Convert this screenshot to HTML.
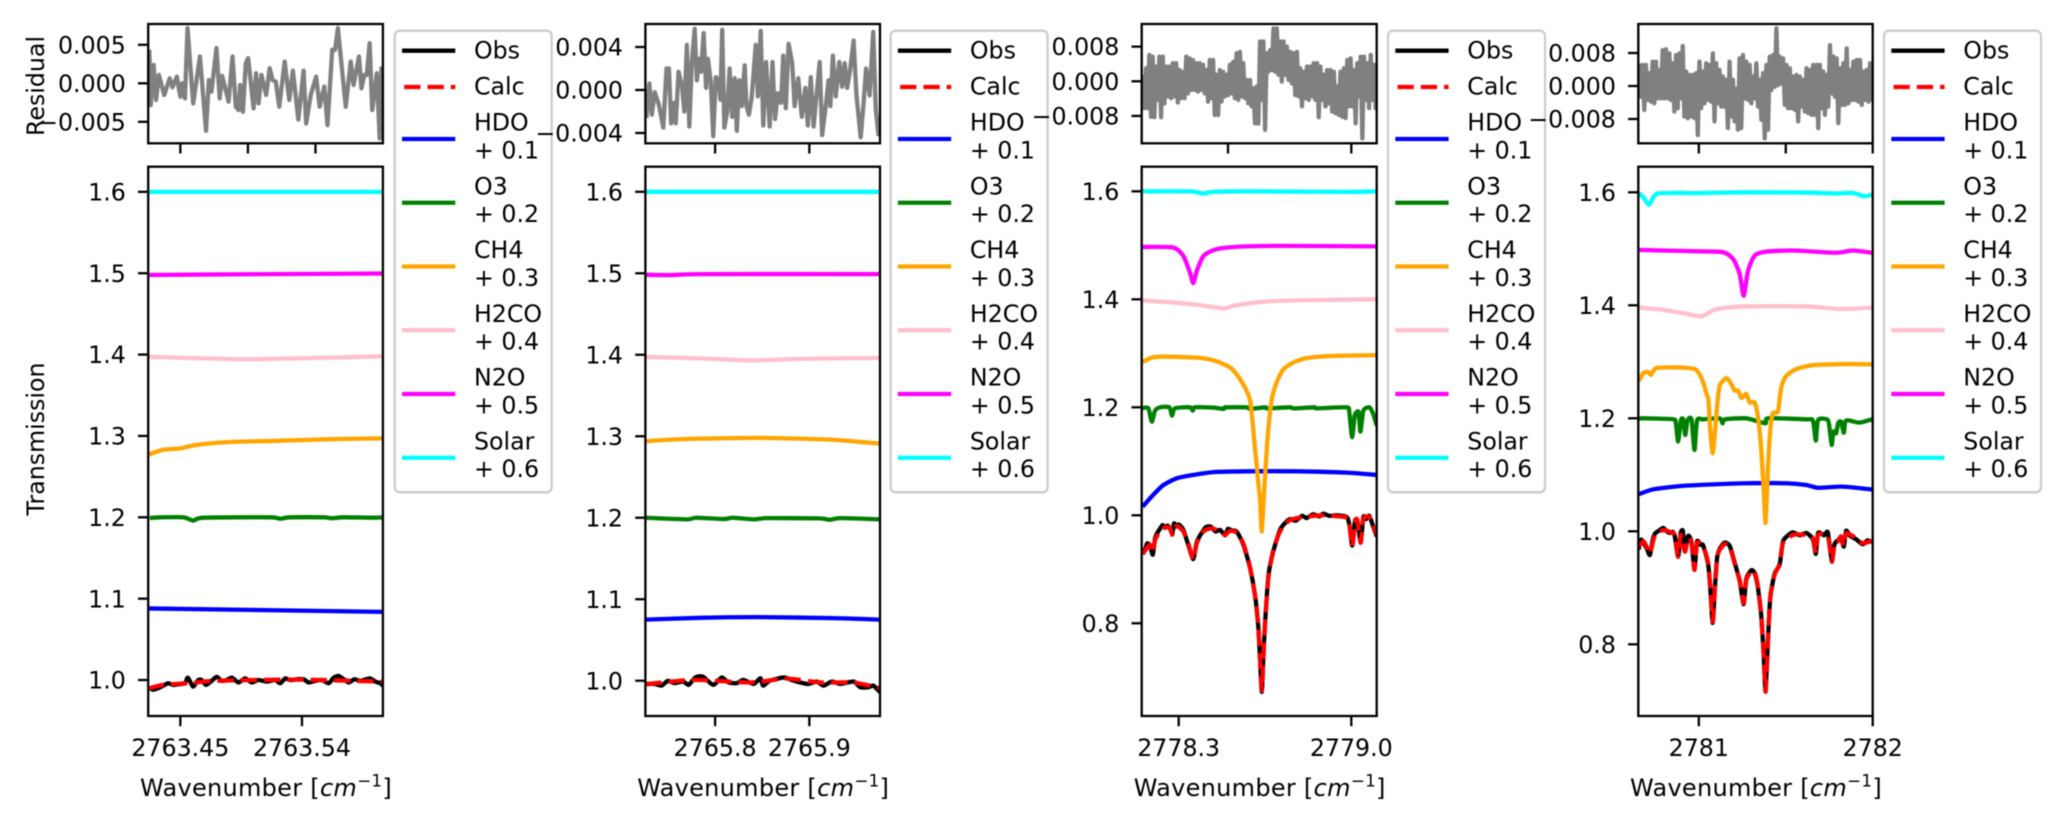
<!DOCTYPE html>
<html lang="en">
<head>
<meta charset="utf-8">
<title>Transmission spectra with residuals</title>
<style>
html,body{margin:0;padding:0;background:#fff;width:2067px;height:823px;overflow:hidden}
#chart{display:block;filter:blur(0.55px)}
text{font-family:"DejaVu Sans","Liberation Sans",sans-serif;font-size:23.7px;fill:#000}
</style>
</head>
<body>
<svg id="chart" xmlns="http://www.w3.org/2000/svg" width="2067" height="823" viewBox="0 0 2067 823"></svg>
<script>
// ---------- legend ----------
const seriesNames = ['Obs','Calc','HDO','O3','CH4','H2CO','N2O','Solar'];
const seriesOffsets = ['','','+ 0.1','+ 0.2','+ 0.3','+ 0.4','+ 0.5','+ 0.6'];
const seriesColors = ['#000000','#ff0000','#0000ff','#008000','#ffa500','#ffc0cb','#ff00ff','#00ffff'];

// ---------- panel 1 ----------
const p1XDomain = [2763.4262, 2763.5999];
const p1YDomain = [0.9558, 1.6309];
const p1ResDomain = [-0.00779, 0.0077];
const p1XTicks = [2763.45, 2763.54];
const p1XTickLabels = ['2763.45','2763.54'];
const p1ResXTicks = [2763.45, 2763.50, 2763.55];
const p1YTicks = [1.0,1.1,1.2,1.3,1.4,1.5,1.6];
const p1YTickLabels = ['1.0','1.1','1.2','1.3','1.4','1.5','1.6'];
const p1ResTicks = [0.005,0,-0.005];
const p1ResTickLabels = ['0.005','0.000','\u22120.005'];
const p1ObsWn = [2763.4262,.4274,.4299,.4336,.4373,.4410,.4448,.4497,.4534,.4554,.4576,.4596,.4633,.4658,.4690,.4732,.4769,.4806,.4843,.4881,.4930,.4979,.5029,.5078,.5140,.5202,.5239,.5276,.5313,.5363,.5412,.5450,.5499,.5549,.5598,.5635,.5672,.5709,.5746,.5788,.5833,.5902,.5944,.5981,.5999].map(function(v,i){return i===0?v:2763+v;});
const p1ObsValues = [.990,.990,.988,.990,.993,.996,.994,.995,.996,1.003,.997,.992,1.000,1.000,.994,.999,1.004,.999,1.000,1.003,.997,1.002,.997,1.000,.998,1.000,.996,1.002,1.000,1.001,1.001,.997,.999,1.000,.996,1.003,1.005,1.001,.997,1.001,.999,1.002,.998,.996,.993];
const p1CalcWn = [2763.4262,2763.4373,2763.4547,2763.4596,2763.4744,2763.5363,2763.5999];
const p1CalcValues = [.9895,.994,.996,.9965,.999,1.0005,.998];
const p1HdoWn = [2763.4262,2763.5999];
const p1HdoValues = [1.088,1.0838];
const p1O3Wn = [2763.4274,2763.4349,2763.4522,2763.4596,2763.4670,2763.5165,2763.5239,2763.5313,2763.5561,2763.5623,2763.5709,2763.5932,2763.5999];
const p1O3Values = [1.1991,1.2,1.2,1.196,1.1995,1.2,1.1982,1.2,1.2,1.1988,1.2,1.1995,1.2];
const p1Ch4Wn = [2763.4262,2763.4373,2763.4497,2763.4621,2763.4868,2763.5214,2763.5610,2763.5999];
const p1Ch4Values = [1.277,1.283,1.2846,1.289,1.2925,1.294,1.296,1.297];
const p1H2coWn = [2763.4262,2763.4992,2763.5999];
const p1H2coValues = [1.3974,1.3943,1.3978];
const p1N2oWn = [2763.4262,2763.4992,2763.5999];
const p1N2oValues = [1.4978,1.4987,1.4996];
const p1SolarWn = [2763.4262,2763.5999];
const p1SolarValues = [1.6,1.6];
const p1ResWn = [.4270,.4281,.4302,.4320,.4341,.4381,.4421,.4442,.4474,.4500,.4513,.4534,.4553,.4595,.4645,.4690,.4711,.4730,.4767,.4791,.4809,.4857,.4886,.4910,.4931,.4942,.4963,.4984,.5002,.5042,.5060,.5079,.5100,.5135,.5161,.5182,.5206,.5232,.5272,.5306,.5333,.5373,.5412,.5431,.5465,.5505,.5531,.5565,.5589,.5624,.5645,.5666,.5724,.5761,.5782,.5822,.5840,.5862,.5880,.5901,.5920,.5954,.5975,.5989].map(function(v){return 2763+v;});
const p1ResMilli = [4.35,-2.83,2.39,-2.17,1.09,-1.52,.65,-.52,.87,-1.74,0,-1.96,7.17,-2.61,3.48,-6.17,.43,-1.09,4.57,-1.96,.96,-2.39,3.48,-3.04,-3.48,-.22,-3.7,2.61,3.26,-3.26,1.3,-2.61,1.09,-1.52,1.96,.43,.22,-3.04,2.83,-2.17,1.65,-4.7,1.65,-5.22,-1.52,.87,-3.04,-.43,-5.43,4.35,4.35,7.17,-3.04,2.83,-.22,3.48,-.65,1.09,1.09,5.22,-3.48,1.3,-7.17,2.17];

// ---------- panel 2 ----------
const p2XDomain = [2765.726, 2765.975];
const p2YDomain = [0.9567, 1.6308];
const p2ResDomain = [-0.00496, 0.00614];
const p2XTicks = [2765.8, 2765.9];
const p2XTickLabels = ['2765.8','2765.9'];
const p2ResXTicks = [2765.8, 2765.9];
const p2YTicks = [1.0,1.1,1.2,1.3,1.4,1.5,1.6];
const p2YTickLabels = ['1.0','1.1','1.2','1.3','1.4','1.5','1.6'];
const p2ResTicks = [0.004,0,-0.004];
const p2ResTickLabels = ['0.004','0.000','\u22120.004'];
const p2ObsWn = [.726,.736,.743,.750,.757,.766,.772,.779,.787,.798,.807,.814,.823,.830,.841,.848,.851,.858,.873,.881,.890,.899,.908,.915,.924,.933,.947,.954,.963,.968,.975].map(function(v){return 2765+v;});
const p2ObsValues = [.996,.996,.994,1.000,.997,.999,.995,1.004,1.005,.995,1.004,.998,.997,1.001,.996,1.003,.994,1.000,1.004,1.001,.998,.996,.999,.994,.999,.996,.999,.992,.992,.994,.986];
const p2CalcWn = [2765.726,2765.777,2765.837,2765.876,2765.912,2765.947,2765.975];
const p2CalcValues = [.9956,1.001,.9978,1.0026,.9978,.9978,.991];
const p2HdoWn = [2765.726,2765.784,2765.848,2765.926,2765.975];
const p2HdoValues = [1.075,1.0772,1.078,1.0768,1.075];
const p2O3Wn = [2765.726,2765.770,2765.780,2765.809,2765.819,2765.841,2765.855,2765.910,2765.922,2765.933,2765.975];
const p2O3Values = [1.2,1.198,1.2,1.1984,1.2,1.198,1.1995,1.1992,1.1975,1.1995,1.198];
const p2Ch4Wn = [2765.726,2765.766,2765.848,2765.926,2765.975];
const p2Ch4Values = [1.294,1.2965,1.298,1.2956,1.291];
const p2H2coWn = [2765.726,2765.784,2765.839,2765.890,2765.975];
const p2H2coValues = [1.3974,1.3956,1.393,1.395,1.396];
const p2N2oWn = [2765.726,2765.755,2765.784,2765.975];
const p2N2oValues = [1.4982,1.4978,1.499,1.499];
const p2SolarWn = [2765.726,2765.975];
const p2SolarValues = [1.6,1.6];
const p2ResWn = [.7271,.7302,.7328,.7359,.7404,.7450,.7484,.7510,.7533,.7563,.7582,.7612,.7650,.7673,.7700,.7726,.7753,.7783,.7806,.7832,.7851,.7878,.7904,.7923,.7954,.7980,.8007,.8037,.8056,.8075,.8098,.8128,.8154,.8181,.8208,.8230,.8257,.8283,.8314,.8333,.8359,.8389,.8431,.8454,.8484,.8511,.8541,.8579,.8609,.8636,.8666,.8700,.8723,.8750,.8780,.8818,.8844,.8882,.8920,.8958,.8984,.9015,.9045,.9072,.9110,.9136,.9174,.9204,.9223,.9250,.9280,.9318,.9348,.9375,.9401,.9432,.9470,.9500,.9545,.9576,.9602,.9640,.9678,.9705,.9735].map(function(v){return 2765+v;});
const p2ResMilli = [-2.6,.6,-2.3,-.2,-1.4,-3.5,2,2,-3.1,-1.2,-3.1,1.7,.3,-2,4.2,-3.4,2.6,5.7,.9,2.9,1.7,5.3,.2,2.9,.8,-4.3,1.2,.9,-.9,5.6,-3.5,-2,2,-2.5,1.1,-3.8,.9,-1.5,2.3,-1.5,-2.3,-.6,4.2,-.6,5.5,-3.3,2.6,-3.4,2.6,-2.7,-.3,-1.2,3.2,-1.7,4.3,2.5,-1.5,1.1,-2.5,.2,-3.3,1.2,-3.4,-.9,2.6,-4.2,-1.5,.9,-1.5,3.2,-.6,2.6,.3,2.5,.2,1.8,4.6,-.5,-4.4,-1.2,2,-.5,5.4,-1.8,-4.3];

// ---------- panel 3 ----------
const p3XDomain = [2778.15, 2779.103];
const p3YDomain = [0.6283, 1.6456];
const p3ResDomain = [-0.01432, 0.01323];
const p3XTicks = [2778.3, 2779.0];
const p3XTickLabels = ['2778.3','2779.0'];
const p3ResXTicks = [2778.5, 2779.0];
const p3YTicks = [0.8,1.0,1.2,1.4,1.6];
const p3YTickLabels = ['0.8','1.0','1.2','1.4','1.6'];
const p3ResTicks = [0.008,0,-0.008];
const p3ResTickLabels = ['0.008','0.000','\u22120.008'];
const p3CalcWn = [2778.154,2778.170,2778.184,2778.195,2778.204,2778.224,2778.245,2778.265,2778.274,2778.281,2778.295,2778.319,2778.339,2778.359,2778.373,2778.400,2778.434,2778.468,2778.488,2778.508,2778.535,2778.562,2778.589,2778.610,2778.623,2778.630,2778.637,2778.643,2778.650,2778.664,2778.684,2778.711,2778.751,2778.819,2778.887,2778.981,2778.992,2779.004,2779.015,2779.025,2779.038,2779.049,2779.073,2779.089,2779.103];
const p3CalcValues = [.928,.939,.945,.931,.954,.970,.978,.976,.964,.976,.980,.970,.948,.917,.948,.970,.976,.970,.964,.971,.968,.948,.905,.849,.794,.732,.675,.732,.800,.886,.936,.970,.991,.9975,1.000,.996,.985,.942,.988,.991,.949,.994,.997,.982,.964];
const p3ObsWn = [2778.154,2778.165,2778.172,2778.184,2778.195,2778.204,2778.214,2778.224,2778.235,2778.245,2778.255,2778.265,2778.274,2778.281,2778.290,2778.300,2778.319,2778.339,2778.359,2778.373,2778.390,2778.410,2778.430,2778.450,2778.468,2778.488,2778.500,2778.515,2778.535,2778.562,2778.589,2778.610,2778.623,2778.630,2778.637,2778.643,2778.650,2778.664,2778.684,2778.711,2778.730,2778.751,2778.775,2778.800,2778.819,2778.845,2778.870,2778.887,2778.910,2778.940,2778.981,2778.992,2779.004,2779.015,2779.025,2779.038,2779.049,2779.060,2779.073,2779.089,2779.103];
const p3ObsValues = [.932,.938,.948,.944,.927,.957,.968,.975,.982,.977,.981,.975,.966,.985,.979,.983,.973,.945,.919,.950,.965,.978,.979,.970,.973,.963,.975,.972,.970,.946,.903,.851,.792,.733,.673,.735,.798,.889,.934,.973,.985,.993,.990,.999,.995,1.002,.998,1.003,.999,1.000,.997,.983,.944,.990,.988,.951,.997,.993,.999,.979,.961];
const p3HdoWn = [2778.154,2778.197,2778.238,2778.292,2778.359,2778.441,2778.576,2778.779,2778.981,2779.103];
const p3HdoValues = [1.016,1.038,1.056,1.0685,1.0747,1.080,1.0815,1.0815,1.079,1.0747];
const p3O3Wn = [2778.154,2778.177,2778.191,2778.204,2778.224,2778.262,2778.273,2778.285,2778.346,2778.357,2778.366,2778.440,2778.481,2778.490,2778.576,2778.589,2778.650,2778.660,2778.751,2778.765,2778.850,2778.860,2778.981,2778.992,2779.003,2779.014,2779.022,2779.030,2779.037,2779.049,2779.073,2779.089,2779.103];
const p3O3Values = [1.1988,1.1982,1.1735,1.1938,1.2,1.2,1.1846,1.1982,1.2,1.1938,1.2,1.1995,1.197,1.2,1.2,1.197,1.2,1.198,1.2,1.198,1.2,1.198,1.2,1.1908,1.1446,1.1846,1.1908,1.1908,1.1551,1.1938,1.2,1.1877,1.1662];
const p3Ch4Wn = [2778.154,2778.191,2778.238,2778.373,2778.441,2778.508,2778.549,2778.589,2778.610,2778.623,2778.630,2778.637,2778.646,2778.660,2778.677,2778.697,2778.724,2778.765,2778.819,2778.914,2779.103];
const p3Ch4Values = [1.284,1.292,1.294,1.292,1.287,1.274,1.252,1.2136,1.121,1.06,1.028,.970,1.04,1.14,1.2136,1.246,1.27,1.283,1.291,1.295,1.2966];
const p3H2coWn = [2778.154,2778.281,2778.373,2778.481,2778.522,2778.576,2778.657,2778.779,2779.103];
const p3H2coValues = [1.398,1.394,1.39,1.383,1.388,1.392,1.396,1.398,1.4];
const p3N2oWn = [2778.154,2778.278,2778.319,2778.346,2778.359,2778.373,2778.400,2778.441,2778.481,2778.576,2778.711,2779.103];
const p3N2oValues = [1.497,1.496,1.48,1.449,1.43,1.452,1.48,1.491,1.495,1.498,1.499,1.498];
const p3SolarWn = [2778.154,2778.346,2778.400,2778.441,2778.576,2778.981,2779.103];
const p3SolarValues = [1.6,1.6,1.596,1.599,1.6,1.599,1.6];
const p3ResMilli = [1.5,-6.2,3,-6.2,6.1,-8.2,5.7,-8.3,3.4,-4.3,5.7,-8.3,5.7,-5.1,3.4,-3.5,3.4,-3.9,4.2,-3.5,4.2,-4.9,2.6,-3.9,2.2,-3.9,5.7,-2.8,5.3,-2,4.9,-2,4.2,-2.4,4.2,-2,3.8,-2.8,2.6,-4.7,4.9,-3.9,4.9,-7.8,1.5,-7.8,2.6,-4.7,2.2,-3.5,1.5,-3.2,3.8,-2.8,4.5,-3.9,6.5,-4.3,6.8,-3.5,4.2,-3.9,.3,-5.1,.3,-5.8,-1.6,-9.7,-1.2,-9.8,9.2,-4.3,9.2,-11.2,6.5,2.2,7.2,2.6,12.2,2.2,12.2,1.5,9.2,-.1,9.2,1.5,8,.3,6.8,-.5,6.5,-3.2,6.8,-3.5,3,-5.8,2.2,-3.9,3.4,-4.3,3.4,-3.5,4.2,-4.3,4.2,-8.3,3.4,-4.3,1.5,-5.8,2.6,-5.1,2.6,-7,2.2,-7.4,-1.2,-7.8,2.2,-8.2,3,-8.5,4.9,-5.8,5.3,-5.8,2.6,-9.7,4.2,-3.5,5.7,-13.2,5.7,-4.3,4.2,-6.2,6.1,-4.3,3.8,-6.6];

// ---------- panel 4 ----------
const p4XDomain = [2780.652, 2782.0];
const p4YDomain = [0.6731, 1.6453];
const p4ResDomain = [-0.01389, 0.01503];
const p4XTicks = [2781, 2782];
const p4XTickLabels = ['2781','2782'];
const p4ResXTicks = [2781, 2781.5, 2782];
const p4YTicks = [0.8,1.0,1.2,1.4,1.6];
const p4YTickLabels = ['0.8','1.0','1.2','1.4','1.6'];
const p4ResTicks = [0.008,0,-0.008];
const p4ResTickLabels = ['0.008','0.000','\u22120.008'];
const p4CalcWn = [2780.654,2780.681,2780.700,2780.719,2780.748,2780.795,2780.834,2780.862,2780.881,2780.895,2780.920,2780.939,2780.958,2780.975,2780.990,2781.025,2781.054,2781.067,2781.080,2781.092,2781.105,2781.120,2781.149,2781.178,2781.206,2781.235,2781.258,2781.273,2781.302,2781.321,2781.340,2781.359,2781.373,2781.384,2781.398,2781.411,2781.436,2781.465,2781.484,2781.541,2781.618,2781.656,2781.673,2781.686,2781.742,2781.765,2781.780,2781.799,2781.818,2781.834,2781.847,2781.904,2781.943,2781.996];
const p4CalcValues = [.973,.982,.973,.961,.9935,1.002,.999,.9935,.955,.9935,.964,.988,.979,.9316,.979,.973,.943,.896,.84,.896,.9525,.967,.9776,.973,.943,.914,.8726,.914,.9286,.9286,.902,.849,.784,.716,.8077,.884,.923,.943,.979,.9935,.9935,.988,.962,.9935,.991,.946,.979,.982,.991,.974,.9965,.988,.979,.983];
const p4ObsWn = [2780.654,2780.668,2780.681,2780.700,2780.719,2780.735,2780.748,2780.770,2780.795,2780.815,2780.834,2780.850,2780.862,2780.881,2780.895,2780.908,2780.920,2780.939,2780.958,2780.975,2780.990,2781.010,2781.025,2781.054,2781.067,2781.080,2781.092,2781.105,2781.120,2781.149,2781.178,2781.206,2781.235,2781.258,2781.273,2781.302,2781.321,2781.340,2781.359,2781.373,2781.384,2781.398,2781.411,2781.436,2781.465,2781.484,2781.510,2781.541,2781.580,2781.618,2781.656,2781.673,2781.686,2781.720,2781.742,2781.765,2781.780,2781.799,2781.818,2781.834,2781.847,2781.870,2781.904,2781.943,2781.970,2781.996];
const p4ObsValues = [.968,.985,.980,.970,.958,.985,.996,1.001,1.006,1.000,.997,.999,.991,.955,.996,1.001,.966,.992,.981,.934,.982,.976,.975,.941,.894,.838,.898,.953,.969,.980,.974,.945,.912,.871,.916,.931,.926,.900,.851,.782,.718,.810,.882,.925,.941,.982,.992,.998,.993,.997,.986,.960,.997,.993,.998,.948,.977,.984,.988,.973,1.001,.992,.986,.977,.984,.981];
const p4HdoWn = [2780.654,2780.738,2780.891,2781.082,2781.273,2781.503,2781.618,2781.685,2781.828,2781.996];
const p4HdoValues = [1.0655,1.0743,1.08,1.083,1.085,1.085,1.082,1.077,1.079,1.074];
const p4O3Wn = [2780.654,2780.681,2780.853,2780.868,2780.881,2780.897,2780.910,2780.922,2780.935,2780.958,2780.975,2780.990,2781.025,2781.120,2781.136,2781.151,2781.273,2781.382,2781.398,2781.618,2781.656,2781.673,2781.686,2781.742,2781.755,2781.765,2781.774,2781.790,2781.801,2781.818,2781.834,2781.847,2781.923,2781.996];
const p4O3Values = [1.1994,1.2,1.1982,1.1912,1.159,1.1965,1.1982,1.1705,1.1965,1.1982,1.144,1.1965,1.1982,1.2,1.1912,1.1982,1.2,1.1912,1.2,1.1982,1.1959,1.1605,1.197,1.197,1.1735,1.1528,1.1765,1.1735,1.1912,1.1941,1.1745,1.1959,1.1924,1.1982];
const p4Ch4Wn = [2780.654,2780.681,2780.709,2780.725,2780.757,2780.891,2780.977,2781.006,2781.029,2781.044,2781.055,2781.067,2781.080,2781.092,2781.105,2781.120,2781.159,2781.187,2781.206,2781.226,2781.245,2781.273,2781.293,2781.321,2781.340,2781.359,2781.373,2781.384,2781.398,2781.411,2781.426,2781.455,2781.474,2781.503,2781.560,2781.656,2781.847,2781.996];
const p4Ch4Values = [1.2655,1.28,1.282,1.277,1.289,1.29,1.287,1.277,1.26,1.243,1.2324,1.173,1.138,1.173,1.22,1.258,1.271,1.2606,1.249,1.249,1.236,1.243,1.228,1.228,1.203,1.144,1.073,1.015,1.114,1.179,1.209,1.212,1.255,1.275,1.287,1.294,1.296,1.2955];
const p4H2coWn = [2780.654,2780.795,2780.929,2781.015,2781.082,2781.140,2781.273,2781.618,2781.809,2781.996];
const p4H2coValues = [1.396,1.392,1.385,1.3805,1.391,1.395,1.398,1.398,1.3935,1.396];
const p4N2oWn = [2780.654,2780.987,2781.140,2781.197,2781.235,2781.258,2781.283,2781.321,2781.388,2781.541,2781.790,2781.885,2781.996];
const p4N2oValues = [1.498,1.4956,1.494,1.482,1.4555,1.417,1.461,1.488,1.495,1.497,1.493,1.497,1.493];
const p4SolarWn = [2780.654,2780.681,2780.713,2780.738,2780.767,2780.891,2780.977,2781.273,2781.618,2781.790,2781.885,2781.952,2781.996];
const p4SolarValues = [1.599,1.591,1.578,1.591,1.598,1.599,1.5985,1.6,1.5995,1.598,1.599,1.593,1.596];
const p4ResMilli = [5.5,-2.6,5.1,-5.8,5.1,-3.4,3.1,-3.8,5.9,-4.2,5.9,-3,3.9,-3,8.7,-3,8.9,-3,7.9,-3.4,5.5,-6.2,7.5,-5.4,7.9,-3,9.7,-7.4,3.5,-7.8,2.7,-7.4,2.7,-7.8,3.1,-11.9,5.9,-5.4,3.5,-4.2,5.5,-3.4,5.1,-3.8,7.9,-8.6,5.5,-4.2,3.9,-5,2.3,-5,1.5,-10.2,5.9,-7.4,1.5,-8.6,-.6,-10.6,6.7,-10.2,7.5,-3,5.9,-3.4,5.1,-4.2,2.3,-3,5.5,-5,1.5,-8.2,3.1,-12.7,5.1,-10.6,7.1,-1,7.5,-.2,14,.2,7.1,.6,6.7,-4.6,5.1,-5.4,4.3,-5.4,2.3,-5.8,2.7,-8.6,2.3,-5,1.5,-6.2,4.3,-6.6,3.9,-7,5.1,-7,5.1,-10.2,5.1,-5.4,3.5,-7,2.7,-5,9.9,-1.8,7.1,-2.6,6.7,-9,4.3,-4.6,5.5,-4.6,9.1,-4.2,3.9,-3.4,5.9,-3.4,6.3,-3.8,6.3,-4.6,3.5,-3.4,3.9,-3.8,5.5,-3.8];

// ---------- layout (pixels, not data) ----------
var FRAME = {resTop:24, resBottom:143.3, mainTop:166.7, mainBottom:716};
var LW = 4.3, AXW = 2.3, TICK = 10.2, PAD = 10.2;
var svg = document.getElementById('chart');

function mk(tag, attrs, parent) {
  var node = document.createElementNS('http://www.w3.org/2000/svg', tag);
  for (var k in attrs) node.setAttribute(k, attrs[k]);
  parent.appendChild(node);
  return node;
}
function linear(domain, range) {
  return function (v) {
    return range[0] + (v - domain[0]) / (domain[1] - domain[0]) * (range[1] - range[0]);
  };
}
function gridWn(domain, n, padFrac) {
  var out = [], a = domain[0] + (domain[1] - domain[0]) * padFrac, b = domain[1] - (domain[1] - domain[0]) * padFrac;
  for (var i = 0; i < n; i++) out.push(a + (b - a) * i / (n - 1));
  return out;
}
function pathFrom(wn, vals, sx, sy) {
  return wn.map(function (w, i) {
    return (i ? 'L' : 'M') + sx(w).toFixed(2) + ' ' + sy(vals[i]).toFixed(2);
  }).join('');
}
// gently rounded path through the read points (corners only, no extra data)
function curveFrom(wn, vals, sx, sy) {
  var pts = wn.map(function (w, i) { return [sx(w), sy(vals[i])]; });
  var k = 0.11;
  var d = 'M' + pts[0][0].toFixed(2) + ' ' + pts[0][1].toFixed(2);
  for (var i = 0; i < pts.length - 1; i++) {
    var p0 = pts[Math.max(i - 1, 0)], p1 = pts[i], p2 = pts[i + 1], p3 = pts[Math.min(i + 2, pts.length - 1)];
    d += 'C' + (p1[0] + (p2[0] - p0[0]) * k).toFixed(2) + ' ' + (p1[1] + (p2[1] - p0[1]) * k).toFixed(2) + ' ' +
         (p2[0] - (p3[0] - p1[0]) * k).toFixed(2) + ' ' + (p2[1] - (p3[1] - p1[1]) * k).toFixed(2) + ' ' +
         p2[0].toFixed(2) + ' ' + p2[1].toFixed(2);
  }
  return d;
}

function drawAxisFrame(g, key, left, right, top, bottom, sx, sy, xTicks, xLabels, yTicks, yLabels) {
  var frame = mk('rect', {x:left, y:top, width:right-left, height:bottom-top, fill:'none', stroke:'#000', 'stroke-width':AXW}, g);
  
  
  xTicks.forEach(function (t, i) {
    var px = sx(t);
    var tick = mk('line', {x1:px, x2:px, y1:bottom, y2:bottom+TICK, stroke:'#000', 'stroke-width':AXW}, g);
    
    
    if (xLabels) {
      var lab = mk('text', {x:px, y:bottom+40, 'text-anchor':'middle'}, g);
      lab.textContent = xLabels[i];
      
      
    }
  });
  yTicks.forEach(function (t, i) {
    var py = sy(t);
    var tick = mk('line', {x1:left-TICK, x2:left, y1:py, y2:py, stroke:'#000', 'stroke-width':AXW}, g);
    
    
    var lab = mk('text', {x:left-TICK-PAD-2, y:py+8.6, 'text-anchor':'end'}, g);
    lab.textContent = yLabels[i];
    
    
  });
}

function drawLegend(g, key, x) {
  var box = mk('rect', {x:x, y:30.7, width:157, height:461.6, rx:5, ry:5, fill:'#fff', 'fill-opacity':0.8, stroke:'#ccc', 'stroke-width':AXW}, g);
  
  
  seriesNames.forEach(function (name, i) {
    var two = i >= 2;
    var lineY = two ? 139 + (i-2)*63.75 : 50.7 + i*36.3;
    var base1 = two ? 130.7 + (i-2)*63.75 : 58.3 + i*36;
    var lineAttrs = {x1:x+7.3, x2:x+60.6, y1:lineY, y2:lineY, stroke:seriesColors[i], 'stroke-width':LW};
    if (name === 'Calc') { lineAttrs['stroke-dasharray'] = '16.3 7'; lineAttrs.x1 = x+9.5; }
    var sw = mk('line', lineAttrs, g);
    
    
    var t = mk('text', {x:x+79.3, y:base1}, g);
    t.textContent = name;
    
    
    if (two) {
      var t2 = mk('text', {x:x+79.3, y:base1+27.7}, g);
      t2.textContent = seriesOffsets[i];
      
      
    }
  });
}

function drawPanel(cfg) {
  var g = mk('g', {}, svg);
  
  

  var sx = linear(cfg.xDomain, [cfg.left, cfg.right]);
  var syRes = linear(cfg.resDomain, [FRAME.resBottom, FRAME.resTop]);
  var syMain = linear(cfg.yDomain, [FRAME.mainBottom, FRAME.mainTop]);

  // clip regions
  var defs = mk('defs', {}, g);
  var c1 = mk('clipPath', {id:cfg.key+'-res-clip'}, defs);
  mk('rect', {x:cfg.left, y:FRAME.resTop, width:cfg.right-cfg.left, height:FRAME.resBottom-FRAME.resTop}, c1);
  var c2 = mk('clipPath', {id:cfg.key+'-main-clip'}, defs);
  mk('rect', {x:cfg.left, y:FRAME.mainTop, width:cfg.right-cfg.left, height:FRAME.mainBottom-FRAME.mainTop}, c2);

  // residual line
  var resVals = cfg.resMilli.map(function (v) { return v / 1000; });
  var resWn = cfg.resWn || gridWn(cfg.xDomain, resVals.length, 0.004);
  var res = mk('path', {d:pathFrom(resWn, resVals, sx, syRes), fill:'none', stroke:'#808080', 'stroke-width':LW, 'stroke-linejoin':'round', 'clip-path':'url(#'+cfg.key+'-res-clip)'}, g);
  
  
  drawAxisFrame(g, cfg.key + '-residual', cfg.left, cfg.right, FRAME.resTop, FRAME.resBottom, sx, syRes, cfg.resXTicks, null, cfg.resTicks, cfg.resTickLabels);

  // main series
  cfg.series.forEach(function (s, i) {
    var attrs = {d:curveFrom(s[0], s[1], sx, syMain), fill:'none', stroke:seriesColors[i], 'stroke-width':LW, 'stroke-linejoin':'round', 'clip-path':'url(#'+cfg.key+'-main-clip)'};
    if (seriesNames[i] === 'Calc') attrs['stroke-dasharray'] = '16.3 7';
    var line = mk('path', attrs, g);
    
    
  });
  drawAxisFrame(g, cfg.key + '-main', cfg.left, cfg.right, FRAME.mainTop, FRAME.mainBottom, sx, syMain, cfg.xTicks, cfg.xTickLabels, cfg.yTicks, cfg.yTickLabels);

  // x axis title
  var title = mk('text', {x:(cfg.left+cfg.right)/2 + 0.5, y:796, 'text-anchor':'middle', 'letter-spacing':'0.28', style:'font-size:24px'}, g);
  
  
  mk('tspan', {}, title).textContent = 'Wavenumber [';
  mk('tspan', {'font-style':'italic'}, title).textContent = 'cm';
  mk('tspan', {dy:-9.5, style:'font-size:16.8px'}, title).textContent = '\u22121';
  mk('tspan', {dy:9.5}, title).textContent = ']';

  drawLegend(g, cfg.key, cfg.right + 11.8 + (cfg.legendShift || 0));
}

var panels = [
  {key:'panel-1', left:148.2, right:382.9, xDomain:p1XDomain, yDomain:p1YDomain, resDomain:p1ResDomain,
   xTicks:p1XTicks, xTickLabels:p1XTickLabels, resXTicks:p1ResXTicks, yTicks:p1YTicks, yTickLabels:p1YTickLabels,
   resTicks:p1ResTicks, resTickLabels:p1ResTickLabels, resWn:p1ResWn, resMilli:p1ResMilli,
   series:[[p1ObsWn,p1ObsValues],[p1CalcWn,p1CalcValues],[p1HdoWn,p1HdoValues],[p1O3Wn,p1O3Values],[p1Ch4Wn,p1Ch4Values],[p1H2coWn,p1H2coValues],[p1N2oWn,p1N2oValues],[p1SolarWn,p1SolarValues]]},
  {key:'panel-2', left:645.4, right:880, legendShift:-1.2, xDomain:p2XDomain, yDomain:p2YDomain, resDomain:p2ResDomain,
   xTicks:p2XTicks, xTickLabels:p2XTickLabels, resXTicks:p2ResXTicks, yTicks:p2YTicks, yTickLabels:p2YTickLabels,
   resTicks:p2ResTicks, resTickLabels:p2ResTickLabels, resWn:p2ResWn, resMilli:p2ResMilli,
   series:[[p2ObsWn,p2ObsValues],[p2CalcWn,p2CalcValues],[p2HdoWn,p2HdoValues],[p2O3Wn,p2O3Values],[p2Ch4Wn,p2Ch4Values],[p2H2coWn,p2H2coValues],[p2N2oWn,p2N2oValues],[p2SolarWn,p2SolarValues]]},
  {key:'panel-3', left:1141.7, right:1376.7, legendShift:-0.5, xDomain:p3XDomain, yDomain:p3YDomain, resDomain:p3ResDomain,
   xTicks:p3XTicks, xTickLabels:p3XTickLabels, resXTicks:p3ResXTicks, yTicks:p3YTicks, yTickLabels:p3YTickLabels,
   resTicks:p3ResTicks, resTickLabels:p3ResTickLabels, resMilli:p3ResMilli,
   series:[[p3ObsWn,p3ObsValues],[p3CalcWn,p3CalcValues],[p3HdoWn,p3HdoValues],[p3O3Wn,p3O3Values],[p3Ch4Wn,p3Ch4Values],[p3H2coWn,p3H2coValues],[p3N2oWn,p3N2oValues],[p3SolarWn,p3SolarValues]]},
  {key:'panel-4', left:1638.3, right:1872.7, legendShift:-0.5, xDomain:p4XDomain, yDomain:p4YDomain, resDomain:p4ResDomain,
   xTicks:p4XTicks, xTickLabels:p4XTickLabels, resXTicks:p4ResXTicks, yTicks:p4YTicks, yTickLabels:p4YTickLabels,
   resTicks:p4ResTicks, resTickLabels:p4ResTickLabels, resMilli:p4ResMilli,
   series:[[p4ObsWn,p4ObsValues],[p4CalcWn,p4CalcValues],[p4HdoWn,p4HdoValues],[p4O3Wn,p4O3Values],[p4Ch4Wn,p4Ch4Values],[p4H2coWn,p4H2coValues],[p4N2oWn,p4N2oValues],[p4SolarWn,p4SolarValues]]}
];
panels.forEach(drawPanel);

// shared y axis titles on the first panel
var resTitle = mk('text', {transform:'translate(44 86) rotate(-90)', 'text-anchor':'middle'}, svg);
resTitle.textContent = 'Residual';



var mainTitle = mk('text', {transform:'translate(44 439) rotate(-90)', 'text-anchor':'middle'}, svg);
mainTitle.textContent = 'Transmission';


</script>
</body>
</html>
